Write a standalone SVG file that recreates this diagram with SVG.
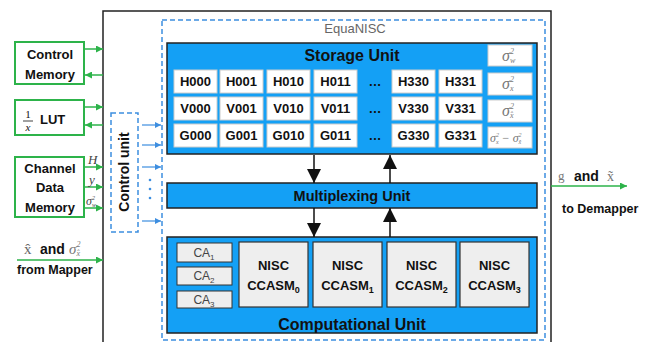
<svg xmlns="http://www.w3.org/2000/svg" width="660" height="342" viewBox="0 0 660 342">
<defs>
<style>
.b{font-family:"Liberation Sans",Arial,sans-serif;font-weight:bold;fill:#111}
.m{font-family:"Liberation Serif","Times New Roman",serif;font-style:italic;fill:#777}
.d{fill:#444}
.cell{fill:#fff;stroke:#ccc;stroke-width:1}
.unit{fill:#14a0f5;stroke:#222;stroke-width:1.5}
.gbox{fill:#fff;stroke:#2db34a;stroke-width:2}
.g{stroke:#2db34a;stroke-width:1.5;fill:none}
.bl{stroke:#3d8ee0;stroke-width:1.2;fill:none}
.dash{fill:none;stroke:#3d8ee0;stroke-width:1.5;stroke-dasharray:5,3}
.k{stroke:#111;stroke-width:1.5;fill:none}
.nisc{fill:#eee;stroke:#333;stroke-width:1.2}
.ca{fill:#eee;stroke:#333;stroke-width:1}
.st{font-size:13px;text-anchor:middle}
</style>
<marker id="ga" viewBox="0 0 10 10" refX="10" refY="5" markerWidth="8" markerHeight="7" markerUnits="userSpaceOnUse" orient="auto"><path d="M0,0L10,5L0,10z" fill="#2db34a"/></marker>
<marker id="ba" viewBox="0 0 10 10" refX="10" refY="5" markerWidth="8" markerHeight="6" markerUnits="userSpaceOnUse" orient="auto"><path d="M0,0L10,5L0,10z" fill="#3d8ee0"/></marker>
<marker id="ka" viewBox="0 0 10 10" refX="10" refY="5" markerWidth="15" markerHeight="14" markerUnits="userSpaceOnUse" orient="auto"><path d="M0,0L10,5L0,10z" fill="#111"/></marker>
</defs>
<rect width="660" height="342" fill="#fff"/>

<!-- outer black box -->
<path d="M103,350V11H551V350" fill="none" stroke="#222" stroke-width="1.5"/>

<g id="equanisc">
<rect x="162" y="20" width="383" height="320" class="dash"/>
<text x="355" y="33" font-family="'Liberation Sans',Arial,sans-serif" font-size="13" fill="#666" text-anchor="middle">EquaNISC</text>
</g>

<g id="control-memory">
<rect x="15" y="42" width="69" height="42" class="gbox"/>
<text class="b" font-size="13" text-anchor="middle"><tspan x="50" y="59">Control</tspan><tspan x="50" y="79">Memory</tspan></text>
</g>

<g id="lut">
<rect x="15" y="100" width="69" height="35" class="gbox"/>
<text x="28" y="118" font-family="'Liberation Serif',serif" font-size="11" text-anchor="middle" fill="#111">1</text>
<line x1="23" y1="121" x2="33" y2="121" stroke="#111" stroke-width="0.8"/>
<text x="28" y="131" class="m" font-size="11" text-anchor="middle" style="fill:#111">x</text>
<text x="40" y="124" class="b" font-size="13">LUT</text>
</g>

<g id="channel-data-memory">
<rect x="15" y="157" width="69" height="60" class="gbox"/>
<text class="b" font-size="13" text-anchor="middle"><tspan x="50" y="173">Channel</tspan><tspan x="50" y="192">Data</tspan><tspan x="50" y="212">Memory</tspan></text>
</g>

<g id="control-unit">
<rect x="111" y="113" width="27" height="119" class="dash"/>
<text class="b" font-size="14" text-anchor="middle" transform="translate(129,172) rotate(-90)">Control unit</text>
</g>

<g id="storage-unit">
<rect x="167" y="43" width="370" height="111" class="unit"/>
<text x="352" y="61" class="b" font-size="16" text-anchor="middle">Storage Unit</text>
<g class="cells">
<rect x="174" y="70" width="43" height="23" class="cell"/><rect x="220" y="70" width="43" height="23" class="cell"/><rect x="267" y="70" width="43" height="23" class="cell"/><rect x="314" y="70" width="43" height="23" class="cell"/><rect x="392" y="70" width="43" height="23" class="cell"/><rect x="439" y="70" width="43" height="23" class="cell"/>
<rect x="174" y="97" width="43" height="23" class="cell"/><rect x="220" y="97" width="43" height="23" class="cell"/><rect x="267" y="97" width="43" height="23" class="cell"/><rect x="314" y="97" width="43" height="23" class="cell"/><rect x="392" y="97" width="43" height="23" class="cell"/><rect x="439" y="97" width="43" height="23" class="cell"/>
<rect x="174" y="124" width="43" height="23" class="cell"/><rect x="220" y="124" width="43" height="23" class="cell"/><rect x="267" y="124" width="43" height="23" class="cell"/><rect x="314" y="124" width="43" height="23" class="cell"/><rect x="392" y="124" width="43" height="23" class="cell"/><rect x="439" y="124" width="43" height="23" class="cell"/>
<rect x="488" y="45" width="44" height="21" class="cell"/><rect x="488" y="73" width="44" height="22" class="cell"/><rect x="488" y="100" width="44" height="22" class="cell"/><rect x="488" y="127" width="44" height="21" class="cell"/>
</g>
<g class="b st">
<text x="195.5" y="86">H000</text><text x="241.5" y="86">H001</text><text x="288.5" y="86">H010</text><text x="335.5" y="86">H011</text><text x="375" y="86">…</text><text x="413.5" y="86">H330</text><text x="460.5" y="86">H331</text>
<text x="195.5" y="113">V000</text><text x="241.5" y="113">V001</text><text x="288.5" y="113">V010</text><text x="335.5" y="113">V011</text><text x="375" y="113">…</text><text x="413.5" y="113">V330</text><text x="460.5" y="113">V331</text>
<text x="195.5" y="140">G000</text><text x="241.5" y="140">G001</text><text x="288.5" y="140">G010</text><text x="335.5" y="140">G011</text><text x="375" y="140">…</text><text x="413.5" y="140">G330</text><text x="460.5" y="140">G331</text>
</g>
<g class="m" font-size="16">
<text x="502" y="61">σ<tspan font-size="8" dy="-7">2</tspan><tspan font-size="8" dx="-4" dy="9">w</tspan></text>
<text x="502" y="89">σ<tspan font-size="8" dy="-7">2</tspan><tspan font-size="8" dx="-4" dy="9">x</tspan></text>
<text x="502" y="116">σ<tspan font-size="8" dy="-7">2</tspan><tspan font-size="8" dx="-4" dy="9">x̂</tspan></text>
<text x="490" y="142" font-size="12">σ<tspan font-size="6" dy="-5">2</tspan><tspan font-size="6" dx="-3" dy="7">x</tspan><tspan dy="-2"> − σ</tspan><tspan font-size="6" dy="-5">2</tspan><tspan font-size="6" dx="-3" dy="7">x̂</tspan></text>
</g>
</g>

<g id="multiplexing-unit">
<rect x="167" y="183" width="370" height="25" class="unit"/>
<text x="352" y="201" class="b" font-size="14.5" text-anchor="middle">Multiplexing Unit</text>
</g>

<g id="computational-unit">
<rect x="167" y="237" width="370" height="96" class="unit"/>
<rect x="177" y="243" width="55" height="19" class="ca"/>
<rect x="177" y="267" width="55" height="18" class="ca"/>
<rect x="177" y="291" width="55" height="17" class="ca"/>
<g font-family="'Liberation Sans',Arial,sans-serif" font-size="12" fill="#444" text-anchor="middle">
<text x="204" y="257">CA<tspan font-size="8" dy="3">1</tspan></text>
<text x="204" y="280">CA<tspan font-size="8" dy="3">2</tspan></text>
<text x="204" y="304">CA<tspan font-size="8" dy="3">3</tspan></text>
</g>
<rect x="239" y="242" width="69" height="65" class="nisc"/>
<rect x="313" y="242" width="69" height="65" class="nisc"/>
<rect x="387" y="242" width="69" height="65" class="nisc"/>
<rect x="460" y="242" width="69" height="65" class="nisc"/>
<g class="b" font-size="13" text-anchor="middle">
<text x="273.5" y="270">NISC</text><text x="273.5" y="290">CCASM<tspan font-size="9" dy="3">0</tspan></text>
<text x="347.5" y="270">NISC</text><text x="347.5" y="290">CCASM<tspan font-size="9" dy="3">1</tspan></text>
<text x="421.5" y="270">NISC</text><text x="421.5" y="290">CCASM<tspan font-size="9" dy="3">2</tspan></text>
<text x="494.5" y="270">NISC</text><text x="494.5" y="290">CCASM<tspan font-size="9" dy="3">3</tspan></text>
</g>
<text x="352" y="330" class="b" font-size="16" text-anchor="middle">Computational Unit</text>
</g>

<g id="connectors">
<line x1="314" y1="155" x2="314" y2="183" class="k" marker-end="url(#ka)"/>
<line x1="390" y1="183" x2="390" y2="155" class="k" marker-end="url(#ka)"/>
<line x1="314" y1="208" x2="314" y2="237" class="k" marker-end="url(#ka)"/>
<line x1="390" y1="237" x2="390" y2="208" class="k" marker-end="url(#ka)"/>

<line x1="84" y1="49" x2="103" y2="49" class="g" marker-end="url(#ga)"/>
<line x1="103" y1="75" x2="85" y2="75" class="g" marker-end="url(#ga)"/>
<line x1="84" y1="107" x2="103" y2="107" class="g" marker-end="url(#ga)"/>
<line x1="103" y1="125" x2="85" y2="125" class="g" marker-end="url(#ga)"/>
<line x1="84" y1="167" x2="103" y2="167" class="g" marker-end="url(#ga)"/>
<line x1="84" y1="187" x2="103" y2="187" class="g" marker-end="url(#ga)"/>
<line x1="84" y1="208" x2="103" y2="208" class="g" marker-end="url(#ga)"/>
<line x1="17" y1="260" x2="103" y2="260" class="g" marker-end="url(#ga)"/>
<line x1="551" y1="186" x2="627" y2="186" class="g" marker-end="url(#ga)"/>

<line x1="142" y1="125" x2="161" y2="125" class="bl" marker-end="url(#ba)"/>
<line x1="142" y1="145" x2="161" y2="145" class="bl" marker-end="url(#ba)"/>
<line x1="142" y1="167" x2="161" y2="167" class="bl" marker-end="url(#ba)"/>
<line x1="142" y1="221" x2="161" y2="221" class="bl" marker-end="url(#ba)"/>
<circle cx="150" cy="180" r="1.3" fill="#3d8ee0"/>
<circle cx="150" cy="189" r="1.3" fill="#3d8ee0"/>
<circle cx="150" cy="198" r="1.3" fill="#3d8ee0"/>
</g>

<g id="labels">
<text x="88" y="164" class="m" font-size="13" style="fill:#444">H</text>
<text x="89" y="184" class="m" font-size="13" style="fill:#444">y</text>
<text x="86" y="205" class="m" font-size="12" style="fill:#444">σ<tspan font-size="6" dy="-5">2</tspan><tspan font-size="6" dx="-3" dy="7">w</tspan></text>

<text x="24" y="254" font-family="'Liberation Serif',serif" font-size="15" fill="#666">x̂</text>
<text x="40" y="254" class="b" font-size="14">and</text>
<text x="69" y="254" class="m" font-size="15">σ<tspan font-size="8" dy="-7">2</tspan><tspan font-size="8" dx="-4" dy="9">x̂</tspan></text>
<text x="17" y="274" class="b" font-size="12.5">from Mapper</text>

<text x="558" y="180" font-family="'Liberation Serif',serif" font-size="13" fill="#777">g</text>
<text x="574" y="181" class="b" font-size="14">and</text>
<text x="607" y="181" font-family="'Liberation Serif',serif" font-size="14" fill="#777">x̃</text>
<text x="562" y="213" class="b" font-size="12.5">to Demapper</text>
</g>
</svg>
